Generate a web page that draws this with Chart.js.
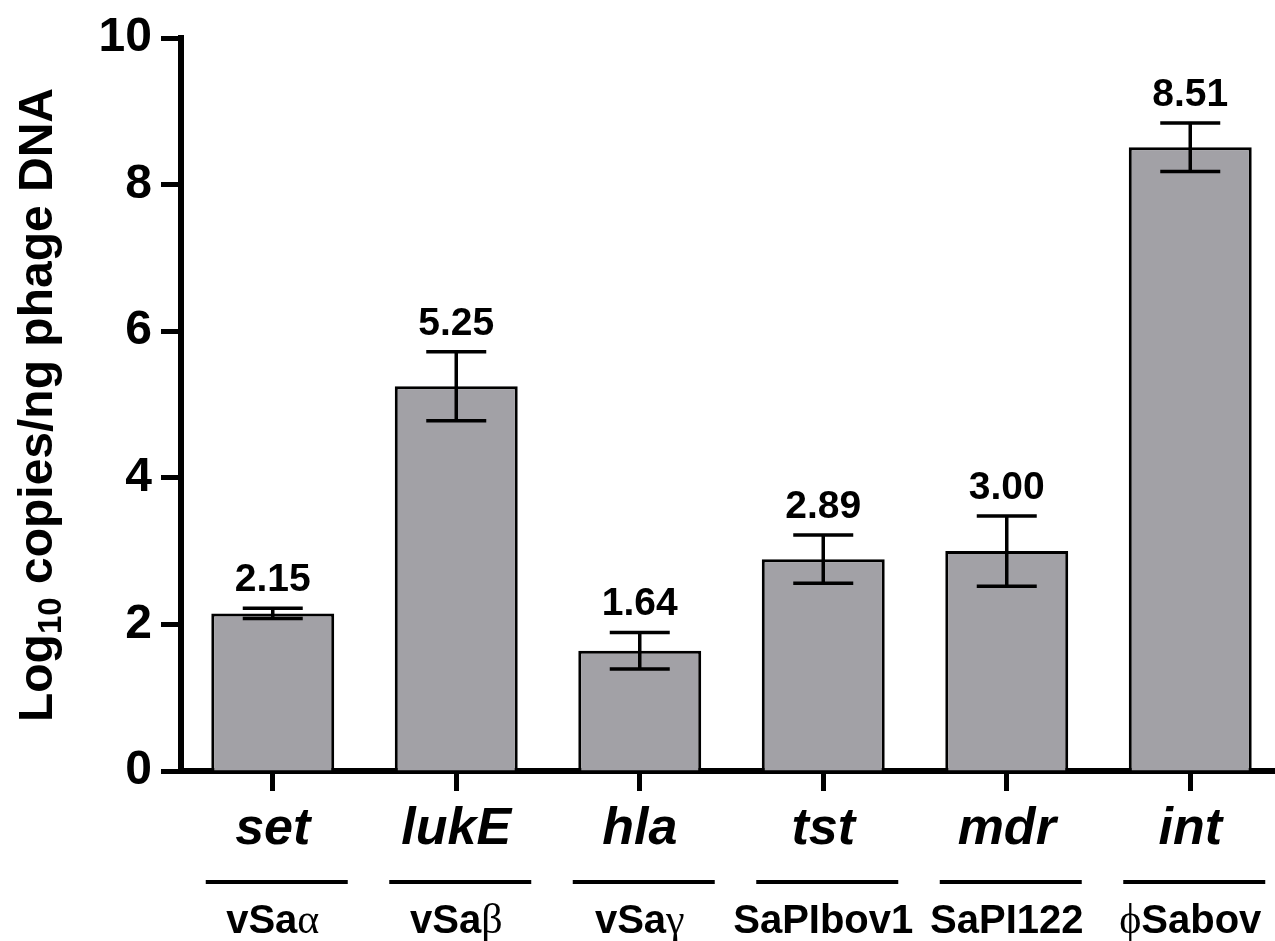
<!DOCTYPE html>
<html>
<head>
<meta charset="utf-8">
<script src="https://cdn.jsdelivr.net/npm/chart.js@4.4.1/dist/chart.umd.min.js"></script>
<style>
  html, body { margin: 0; padding: 0; background: #fff; overflow: hidden; }
  #wrap { width: 1282px; height: 941px; }
</style>
</head>
<body>
<div id="wrap"><canvas id="chart" width="1282" height="941"></canvas></div>
<script>
// Chart data
const genes = ['set', 'lukE', 'hla', 'tst', 'mdr', 'int'];
const elements = ['vSaα', 'vSaβ', 'vSaγ', 'SaPIbov1', 'SaPI122', 'ϕSabov'];
const means = [2.15, 5.25, 1.64, 2.89, 3.00, 8.51];
const errors = [0.07, 0.47, 0.25, 0.33, 0.48, 0.33];
const yTicks = [0, 2, 4, 6, 8, 10];

const SANS = '"Liberation Sans", Arial, sans-serif';
const SERIF = '"Liberation Serif", "DejaVu Serif", serif';

/**
 * Error bars + value labels above them
 */
const errorBars = {
    id: 'errorBars',
    afterDatasetsDraw(chart) {
        const ctx = chart.ctx;
        const y = chart.scales.y;
        const meta = chart.getDatasetMeta(0);
        ctx.save();
        ctx.strokeStyle = '#000';
        ctx.lineWidth = 3.5;
        meta.data.forEach(function(bar, i) {
            const top = y.getPixelForValue(means[i] + errors[i]);
            const bot = y.getPixelForValue(means[i] - errors[i]);
            ctx.beginPath();
            ctx.moveTo(bar.x, top); ctx.lineTo(bar.x, bot);
            ctx.moveTo(bar.x - 30, top); ctx.lineTo(bar.x + 30, top);
            ctx.moveTo(bar.x - 30, bot); ctx.lineTo(bar.x + 30, bot);
            ctx.stroke();

            ctx.fillStyle = '#000';
            ctx.font = 'bold 39px ' + SANS;
            ctx.textAlign = 'center';
            ctx.textBaseline = 'alphabetic';
            ctx.fillText(means[i].toFixed(2), bar.x, top - 17);
        });
        ctx.restore();
    }
};

/**
 * Axis title with subscript and the mobile element row under the genes
 */
const extraText = {
    id: 'extraText',
    afterDraw(chart) {
        const ctx = chart.ctx;
        const x = chart.scales.x;
        ctx.save();
        ctx.fillStyle = '#000';
        ctx.strokeStyle = '#000';

        // element labels with underline
        elements.forEach(function(label, i) {
            const cx = x.getPixelForValue(i);
            ctx.lineWidth = 4;
            ctx.beginPath();
            ctx.moveTo(cx - 67, 882);
            ctx.lineTo(cx + 75, 882);
            ctx.stroke();

            // split greek letters into a serif font
            const parts = label.match(/[\u0370-\u03FF]+|[^\u0370-\u03FF]+/g);
            const fonts = parts.map(function(p) {
                return /[\u0370-\u03FF]/.test(p) ? '42px ' + SERIF : 'bold 40px ' + SANS;
            });
            let w = 0;
            parts.forEach(function(p, k) { ctx.font = fonts[k]; w += ctx.measureText(p).width; });
            let px = cx - w / 2;
            ctx.textAlign = 'left';
            ctx.textBaseline = 'alphabetic';
            parts.forEach(function(p, k) {
                ctx.font = fonts[k];
                ctx.fillText(p, px, 933);
                px += ctx.measureText(p).width;
            });
        });

        // y axis title
        const bigFont = 'bold 48px ' + SANS;
        const subFont = 'bold 33px ' + SANS;
        const seg = [
            { t: 'Log', f: bigFont, dy: 0 },
            { t: '10', f: subFont, dy: 9 },
            { t: ' copies/ng phage DNA', f: bigFont, dy: 0 }
        ];
        let total = 0;
        seg.forEach(function(s) { ctx.font = s.f; total += ctx.measureText(s.t).width; });
        ctx.translate(52, 405);
        ctx.rotate(-Math.PI / 2);
        ctx.textAlign = 'left';
        ctx.textBaseline = 'alphabetic';
        let tx = -total / 2;
        seg.forEach(function(s) {
            ctx.font = s.f;
            ctx.fillText(s.t, tx, s.dy);
            tx += ctx.measureText(s.t).width;
        });
        ctx.restore();
    }
};

new Chart(document.getElementById('chart'), {
    type: 'bar',
    data: {
        labels: genes,
        datasets: [{
            data: means,
            backgroundColor: '#a2a1a6',
            borderColor: '#000',
            borderWidth: 3,
            barPercentage: 0.67,
            categoryPercentage: 1.0
        }]
    },
    options: {
        responsive: false,
        animation: false,
        devicePixelRatio: 1,
        layout: { padding: { top: 38, left: 0, right: 0, bottom: 0 } },
        plugins: {
            legend: { display: false },
            tooltip: { enabled: false }
        },
        scales: {
            x: {
                offset: true,
                border: { display: true, width: 6, color: '#000' },
                grid: {
                    display: true,
                    drawOnChartArea: false,
                    drawTicks: true,
                    offset: false,
                    tickLength: 20,
                    tickWidth: 5,
                    tickColor: '#000'
                },
                ticks: {
                    color: '#000',
                    autoSkip: false,
                    maxRotation: 0,
                    padding: 7,
                    font: { family: SANS, size: 52, style: 'italic', weight: 'bold' }
                },
                afterFit: function(scale) { scale.height = 170; }
            },
            y: {
                min: 0,
                max: 10,
                afterBuildTicks: function(scale) {
                    scale.ticks = yTicks.map(function(v) { return { value: v }; });
                },
                border: { display: true, width: 6, color: '#000' },
                grid: {
                    display: true,
                    drawOnChartArea: false,
                    drawTicks: true,
                    tickLength: 20,
                    tickWidth: 5,
                    tickColor: '#000'
                },
                ticks: {
                    color: '#000',
                    padding: 9,
                    font: { family: SANS, size: 48, weight: 'bold' }
                },
                afterFit: function(scale) { scale.width = 181; }
            }
        }
    },
    plugins: [errorBars, extraText]
});
</script>
</body>
</html>
